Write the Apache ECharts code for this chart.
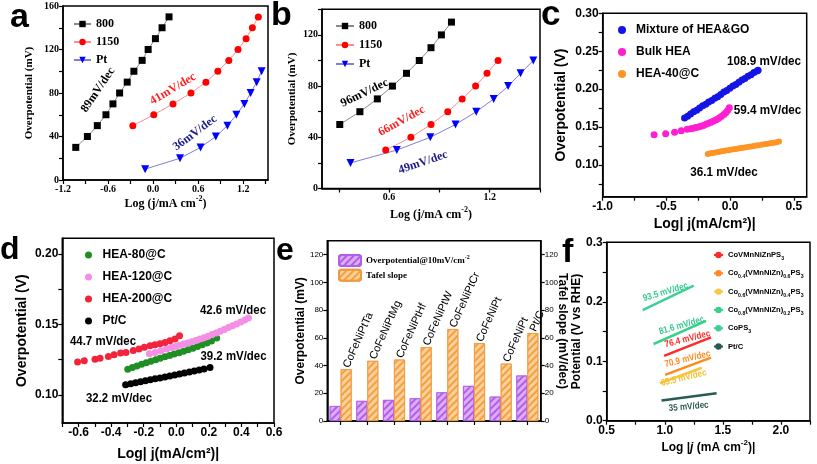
<!DOCTYPE html>
<html><head><meta charset="utf-8">
<script src="https://cdn.jsdelivr.net/npm/echarts@6/dist/echarts.min.js"></script>
<style>html,body{margin:0;padding:0;background:#fff}#c{width:817px;height:464px}</style>
</head><body><div id="c"></div>
<script>
// ---------- panel a ----------
const a800X = [-1.03,-0.875,-0.743,-0.628,-0.535,-0.446,-0.345,-0.256,-0.146,-0.066,0.031,0.119,0.212];
const a800Y = [30,40,50,60,70,80,90,100,110,120,130,140,150];
const a1150X = [-0.27,0.009,0.265,0.504,0.703,0.862,1.008,1.131,1.238,1.322,1.401];
const a1150Y = [50,60,70,80,90,100,110,120,130,140,150];
const aPtX = [-0.106,0.358,0.632,0.835,0.990,1.109,1.215,1.299,1.379,1.445];
const aPtY = [10,20,30,40,50,60,70,80,90,100];
const aXTicks = [-1.2,-0.9,-0.6,-0.3,0,0.3,0.6,0.9,1.2,1.5];
const aXLabels = [-1.2,-0.6,0,0.6,1.2];
const aYTicks = [0,20,40,60,80,100,120,140,160];
const aYLabels = [0,40,80,120,160];
// ---------- panel b ----------
const b800X = [0.306,0.426,0.53,0.62,0.704,0.78,0.85,0.912,0.972];
const b800Y = [50,60,70,80,90,100,110,120,130];
const b1150X = [0.58,0.73,0.85,0.95,1.036,1.116,1.184,1.25];
const b1150Y = [30,40,50,60,70,80,90,100];
const bPtX = [0.37,0.646,0.846,0.996,1.12,1.224,1.31,1.384,1.46];
const bPtY = [20,30,40,50,60,70,80,90,100];
const bXTicks = [0.3,0.6,0.9,1.2,1.5];
const bXLabels = [0.6,1.2];
const bYTicks = [0,20,40,60,80,100,120,140];
const bYLabels = [0,40,80,120];
// ---------- panel c ----------
const cMixX = [-0.358,-0.334,-0.311,-0.287,-0.263,-0.240,-0.216,-0.192,-0.169,-0.145,-0.121,-0.098,-0.074,-0.050,-0.027,-0.003,0.021,0.044,0.068,0.092,0.115,0.139,0.163,0.186,0.210,0.219];
const cMixY = [0.162,0.164,0.167,0.170,0.172,0.175,0.178,0.180,0.183,0.185,0.188,0.190,0.193,0.196,0.198,0.201,0.204,0.206,0.209,0.212,0.214,0.217,0.219,0.222,0.224,0.225];
const cBulkX = [-0.597,-0.506,-0.436,-0.384,-0.337,-0.31,-0.29,-0.27,-0.25,-0.23,-0.21,-0.19,-0.17,-0.15,-0.13,-0.11,-0.09,-0.07,-0.05,-0.035,-0.02,-0.007];
const cBulkY = [0.1396,0.141,0.143,0.1449,0.147,0.1476,0.1484,0.1492,0.1501,0.151,0.152,0.1535,0.155,0.1562,0.1578,0.1595,0.1615,0.1638,0.1665,0.1688,0.1718,0.1755];
const cHeaX = [-0.176,-0.155,-0.135,-0.115,-0.095,-0.075,-0.055,-0.035,-0.015,0.005,0.025,0.045,0.065,0.085,0.105,0.125,0.145,0.165,0.185,0.205,0.225,0.245,0.265,0.285,0.305,0.325,0.345,0.365,0.383];
const cHeaY = [0.1145,0.1152,0.1158,0.1164,0.117,0.1176,0.1182,0.1188,0.1193,0.1199,0.1205,0.121,0.1216,0.1222,0.1227,0.1233,0.1238,0.1244,0.125,0.1255,0.126,0.1266,0.1271,0.1277,0.1282,0.1287,0.1293,0.1299,0.1307];
const cXTicks = [-1,-0.75,-0.5,-0.25,0,0.25,0.5];
const cXLabels = [-1,-0.5,0,0.5];
const cYTicks = [0.075,0.1,0.125,0.15,0.175,0.2,0.225,0.25,0.275,0.3];
const cYLabels = [0.1,0.15,0.2,0.25,0.3];
// ---------- panel d ----------
const dRedX = [-0.606,-0.565,-0.499,-0.468,-0.417,-0.382,-0.342,-0.309,-0.264,-0.229,-0.196,-0.161,-0.131,-0.100,-0.069,-0.039,-0.008,0.02];
const dRedY = [0.1232,0.1241,0.1253,0.1260,0.1272,0.1284,0.1296,0.1300,0.1314,0.1324,0.1338,0.1348,0.1355,0.1362,0.1371,0.1383,0.1395,0.1418];
const dPinkX = [-0.165,-0.13,-0.095,-0.06,-0.03,-0.005,0.02,0.045,0.07,0.095,0.12,0.145,0.17,0.195,0.22,0.245,0.27,0.295,0.32,0.345,0.37,0.395,0.42,0.443];
const dPinkY = [0.1291,0.1300,0.1312,0.1325,0.1335,0.1343,0.1352,0.1360,0.1368,0.1377,0.1386,0.1395,0.1405,0.1416,0.1427,0.1438,0.1450,0.1464,0.1477,0.1490,0.1503,0.1516,0.1530,0.1544];
const dGreenX = [-0.298,-0.27,-0.242,-0.213,-0.185,-0.156,-0.127,-0.099,-0.07,-0.041,-0.013,0.016,0.045,0.073,0.102,0.13,0.159,0.188,0.216,0.248];
const dGreenY = [0.1182,0.1193,0.1205,0.1216,0.1227,0.1238,0.1249,0.1259,0.1269,0.1279,0.1289,0.1299,0.1309,0.1320,0.1331,0.1342,0.1355,0.1368,0.1382,0.1402];
const dPtX = [-0.311,-0.28,-0.25,-0.22,-0.19,-0.16,-0.13,-0.10,-0.07,-0.04,-0.01,0.02,0.05,0.08,0.11,0.14,0.17,0.207];
const dPtY = [0.1071,0.1078,0.1085,0.1092,0.1099,0.1106,0.1113,0.1120,0.1127,0.1134,0.1141,0.1148,0.1155,0.1162,0.1169,0.1176,0.1183,0.1194];
const dXTicks = [-0.7,-0.6,-0.5,-0.4,-0.3,-0.2,-0.1,0,0.1,0.2,0.3,0.4,0.5,0.6];
const dXLabels = [-0.6,-0.4,-0.2,0,0.2,0.4,0.6];
const dYTicks = [0.1,0.125,0.15,0.175,0.2];
const dYLabels = [0.1,0.15,0.2];
// ---------- panel e ----------
const eCats = ['CoFeNiPtTa','CoFeNiPtMg','CoFeNiPtHf','CoFeNiPtW','CoFeNiPtCr','CoFeNiPt','CoFeNiPt','Pt/C'];
const eOver = [10.8,14.5,15.2,16.4,20.7,25.3,17.6,32.8];
const eTafel = [37.3,43.4,44.3,53.3,66.3,56.1,41.4,63.4];
const eYTicks = [0,20,40,60,80,100,120];
// ---------- panel f ----------
const fCoPS3X = [0.81,1.249], fCoPS3Y = [0.186,0.227];
const fCo08X = [0.904,1.356], fCo08Y = [0.129,0.168];
const fCoVX = [0.994,1.398], fCoVY = [0.109,0.140];
const fCo04X = [1.003,1.398], fCo04Y = [0.077,0.106];
const fCo06X = [0.958,1.319], fCo06Y = [0.063,0.089];
const fPtX = [0.972,1.446], fPtY = [0.034,0.046];
const fXTicks = [0.5,0.75,1,1.25,1.5,1.75,2,2.25];
const fXLabels = [0.5,1,1.5,2];
const fYTicks = [0,0.05,0.1,0.15,0.2,0.25,0.3];
const fYLabels = [0,0.1,0.2,0.3];

const SERIF = 'Liberation Serif';
const SANS = 'Liberation Sans';
const zip = (xs, ys) => xs.map((x, i) => [x, ys[i]]);

function vAxis(o) {
  return {
    type: 'value', gridIndex: o.g, min: o.min, max: o.max, position: o.pos,
    axisLine: {show: true, onZero: false, lineStyle: {color: '#000', width: 1.5}},
    axisTick: {show: true, length: 4, customValues: o.ticks, lineStyle: {color: '#000', width: 1.2}},
    axisLabel: {show: true, customValues: o.labels, formatter: o.fmt, fontFamily: o.ff, fontWeight: 'bold',
      fontSize: o.fs, color: '#000', margin: o.margin == null ? 4 : o.margin},
    splitLine: {show: false},
    name: o.name, nameLocation: 'middle', nameGap: o.gap, nameMoveOverlap: false,
    nameTextStyle: {fontFamily: o.ff, fontWeight: 'bold', fontSize: o.nfs, color: '#000', lineHeight: o.nfs + 6,
      rich: {
        sup: {fontFamily: o.ff, fontWeight: 'bold', fontSize: o.nfs - 4, lineHeight: o.nfs - 4, verticalAlign: 'top', color: '#000'},
        i: {fontFamily: o.ff, fontWeight: 'bold', fontStyle: 'italic', fontSize: o.nfs, lineHeight: o.nfs + 6, color: '#000'}
      }}
  };
}
const f1 = v => v.toFixed(1), f2 = v => v.toFixed(2), f0 = v => String(Math.round(v));

const grid = (l, t, r, b) => ({left: l, top: t, width: r - l, height: b - t, show: true, borderColor: '#000', borderWidth: 1.5, outerBoundsMode: 'none', containLabel: false});

const xAxis = [
  vAxis({g: 0, min: -1.2, max: 1.53, ticks: aXTicks, labels: aXLabels, fmt: f1, ff: SERIF, fs: 10, name: 'Log (j/mA cm{sup|-2})', gap: 15, nfs: 12}),
  vAxis({g: 1, min: 0.2, max: 1.5, ticks: bXTicks, labels: bXLabels, fmt: f1, ff: SERIF, fs: 10, name: 'Log (j/mA cm{sup|-2})', gap: 17, nfs: 12}),
  vAxis({g: 2, min: -1.0, max: 0.6, ticks: cXTicks, labels: cXLabels, fmt: f1, ff: SANS, fs: 12, name: 'Log| j(mA/cm²)|', gap: 17, nfs: 14}),
  vAxis({g: 3, min: -0.7, max: 0.6, ticks: dXTicks, labels: dXLabels, fmt: f1, ff: SANS, fs: 12, name: 'Log| j(mA/cm²)|', gap: 21, nfs: 14}),
  {type: 'category', gridIndex: 4, data: eCats.map((c, i) => String(i)), boundaryGap: true,
    axisLine: {show: true, lineStyle: {color: '#000', width: 1.5}},
    axisTick: {show: true, alignWithLabel: true, length: 4, lineStyle: {color: '#000', width: 1.2}},
    axisLabel: {show: false}, splitLine: {show: false}},
  vAxis({g: 5, min: 0.5, max: 2.25, ticks: fXTicks, labels: fXLabels, fmt: f1, ff: SANS, fs: 12, name: 'Log |{i|j} (mA cm{sup|-2})|', gap: 18, nfs: 12})
];
const yAxis = [
  vAxis({g: 0, min: 0, max: 160, ticks: aYTicks, labels: aYLabels, fmt: f0, ff: SERIF, fs: 10, name: 'Overpotential (mV)', gap: 25, nfs: 11}),
  vAxis({g: 1, min: 0, max: 140, ticks: bYTicks, labels: bYLabels, fmt: f0, ff: SERIF, fs: 10, name: 'Overpotential (mV)', gap: 21, nfs: 11}),
  vAxis({g: 2, min: 0.058, max: 0.3, ticks: cYTicks, labels: cYLabels, fmt: f2, ff: SANS, fs: 12, name: 'Overpotential (V)', gap: 32, nfs: 14}),
  vAxis({g: 3, min: 0.08, max: 0.211, ticks: dYTicks, labels: dYLabels, fmt: f2, ff: SANS, fs: 12, name: 'Overpotential (V)', gap: 30, nfs: 14}),
  vAxis({g: 4, min: 0, max: 130, ticks: eYTicks, labels: eYTicks, fmt: f0, ff: SANS, fs: 8, name: 'Overpotential (mV)', gap: 18, nfs: 12}),
  vAxis({g: 4, min: 0, max: 130, pos: 'right', ticks: eYTicks, labels: eYTicks, fmt: f0, ff: SANS, fs: 8, name: '', gap: 15, nfs: 12}),
  vAxis({g: 5, min: 0, max: 0.3, ticks: fYTicks, labels: fYLabels, fmt: f1, ff: SANS, fs: 12, name: 'Potential (V vs RHE)', gap: 21, nfs: 12})
];
yAxis[4].axisLabel.fontWeight = 'normal';
yAxis[5].axisLabel.fontWeight = 'normal';

function lineMark(name, xi, xs, ys, symbol, mcol, lcol, rot) {
  return {type: 'line', name, xAxisIndex: xi, yAxisIndex: xi, data: zip(xs, ys), symbol, symbolSize: symbol === 'triangle' ? 8 : 7,
    symbolRotate: rot || 0, itemStyle: {color: mcol}, lineStyle: {color: lcol, width: 1}, z: 3, animation: false};
}
function dots(name, xi, xs, ys, col, size) {
  return {type: 'scatter', name, xAxisIndex: xi, yAxisIndex: xi, data: zip(xs, ys), symbol: 'circle', symbolSize: size, itemStyle: {color: col, opacity: 1}, animation: false};
}
function fLine(name, xs, ys, col) {
  return {type: 'line', name, xAxisIndex: 5, yAxisIndex: 6, data: zip(xs, ys), symbol: 'none', lineStyle: {color: col, width: 2.5}, itemStyle: {color: col}, animation: false};
}
const hatch = (c) => ({symbol: 'rect', symbolSize: 1, dashArrayX: [1, 0], dashArrayY: [1.3, 2.2], rotation: -Math.PI / 4, color: c});

const series = [
  lineMark('a800', 0, a800X, a800Y, 'rect', '#000000', '#8a8a8a'),
  lineMark('a1150', 0, a1150X, a1150Y, 'circle', '#ff0000', '#ff8c8c'),
  lineMark('aPt', 0, aPtX, aPtY, 'triangle', '#0000ff', '#8080d8', 180),
  lineMark('b800', 1, b800X, b800Y, 'rect', '#000000', '#8a8a8a'),
  lineMark('b1150', 1, b1150X, b1150Y, 'circle', '#ff0000', '#ff8c8c'),
  lineMark('bPt', 1, bPtX, bPtY, 'triangle', '#0000ff', '#8080d8', 180),
  dots('Mixture of HEA&GO', 2, cMixX, cMixY, '#1414e6', 7),
  dots('Bulk HEA', 2, cBulkX, cBulkY, '#ff1fd2', 7),
  dots('HEA-40@C', 2, cHeaX, cHeaY, '#ff9424', 6),
  dots('HEA-80@C', 3, dGreenX, dGreenY, '#1f8f24', 7),
  dots('HEA-120@C', 3, dPinkX, dPinkY, '#f48ee6', 7),
  dots('HEA-200@C', 3, dRedX, dRedY, '#f2243c', 7),
  dots('Pt/C', 3, dPtX, dPtY, '#000000', 7),
  {type: 'bar', name: 'eOver', xAxisIndex: 4, yAxisIndex: 4, data: eOver, barWidth: 11, barGap: '0%', animation: false,
    itemStyle: {color: '#dcaef8', borderColor: '#b060e6', borderWidth: 0.8, decal: hatch('#b45cee')}},
  {type: 'bar', name: 'eTafel', xAxisIndex: 4, yAxisIndex: 5, data: eTafel, barWidth: 11, barGap: '0%', animation: false,
    itemStyle: {color: '#fdd09c', borderColor: '#f09a40', borderWidth: 0.8, decal: hatch('#f5a040')},
    label: {show: true, position: 'top', rotate: 66, align: 'left', verticalAlign: 'middle', distance: 2,
      formatter: p => eCats[p.dataIndex], fontFamily: SANS, fontSize: 11, color: '#000'}},
  fLine('CoVMnNiZnPS3', fCoVX, fCoVY, '#ff2a2a'),
  fLine('Co0.4', fCo04X, fCo04Y, '#ff8a1e'),
  fLine('Co0.6', fCo06X, fCo06Y, '#f8c640'),
  fLine('Co0.8', fCo08X, fCo08Y, '#38d08a'),
  fLine('CoPS3', fCoPS3X, fCoPS3Y, '#3ccf98'),
  fLine('fPt', fPtX, fPtY, '#2b5a52')
];

const fNames = {
  'CoVMnNiZnPS3': 'CoVMnNiZnPS{s|3}',
  'Co0.4': 'Co{s|0.4}(VMnNiZn){s|0.6}PS{s|3}',
  'Co0.6': 'Co{s|0.6}(VMnNiZn){s|0.4}PS{s|3}',
  'Co0.8': 'Co{s|0.8}(VMnNiZn){s|0.2}PS{s|3}',
  'CoPS3': 'CoPS{s|3}',
  'fPt': 'Pt/C'
};
const abNames = {a800: '800', a1150: '1150', aPt: 'Pt', b800: '800', b1150: '1150', bPt: 'Pt'};
const legBase = (extra) => Object.assign({orient: 'vertical', padding: 0, selectedMode: false, inactiveColor: '#000'}, extra);

const legend = [
  legBase({data: ['a800', 'a1150', 'aPt'], left: 73, top: 18, itemWidth: 17, itemHeight: 8, itemGap: 6, formatter: n => abNames[n],
    textStyle: {fontFamily: SERIF, fontWeight: 'bold', fontSize: 12, color: '#000'}}),
  legBase({data: ['b800', 'b1150', 'bPt'], left: 335, top: 20, itemWidth: 18, itemHeight: 8, itemGap: 7, formatter: n => abNames[n],
    textStyle: {fontFamily: SERIF, fontWeight: 'bold', fontSize: 12, color: '#000'}}),
  legBase({data: ['Mixture of HEA&GO', 'Bulk HEA', 'HEA-40@C'], left: 618, top: 24, itemWidth: 18, itemHeight: 8, itemGap: 10,
    textStyle: {fontFamily: SANS, fontWeight: 'bold', fontSize: 12, color: '#000'}}),
  legBase({data: ['HEA-80@C', 'HEA-120@C', 'HEA-200@C', 'Pt/C'], left: 85, top: 249, itemWidth: 18, itemHeight: 7, itemGap: 10,
    textStyle: {fontFamily: SANS, fontWeight: 'bold', fontSize: 12, color: '#000'}}),
  legBase({data: ['eOver', 'eTafel'], left: 338, top: 254, itemWidth: 22, itemHeight: 11, itemGap: 1.7,
    formatter: n => n === 'eOver' ? 'Overpotential@10mV/cm{sup|-2}' : 'Tafel slope',
    textStyle: {fontFamily: SERIF, fontWeight: 'bold', fontSize: 9, color: '#000', lineHeight: 13,
      rich: {sup: {fontFamily: SERIF, fontWeight: 'bold', fontSize: 6, lineHeight: 6, verticalAlign: 'top'}}}}),
  legBase({data: ['CoVMnNiZnPS3', 'Co0.4', 'Co0.6', 'Co0.8', 'CoPS3', 'fPt'], left: 713, top: 249, itemWidth: 9, itemHeight: 8, itemGap: 6.3,
    formatter: n => fNames[n],
    textStyle: {fontFamily: SANS, fontWeight: 'bold', fontSize: 7.6, color: '#000', lineHeight: 12,
      rich: {s: {fontFamily: SANS, fontWeight: 'bold', fontSize: 5.2, lineHeight: 5.2, verticalAlign: 'bottom'}}}})
];

function txt(t, x, y, o) {
  o = o || {};
  return {type: 'text', x, y, rotation: o.rot || 0, scaleX: o.sx || 1, z: 100, silent: true,
    style: {text: t, fill: o.c || '#000', font: o.font, textAlign: o.align || 'center', align: o.align || 'center',
      textVerticalAlign: 'middle', verticalAlign: 'middle'}};
}
const LET = s => 'bold ' + s + 'px ' + SANS;
const ANN_S = 'bold 12px ' + SERIF;
const ANN_C = 'bold 13px ' + SANS;
const ANN_F = 'bold 9.5px ' + SANS;
const graphic = [
  txt('a', 10, 18, {font: LET(34), align: 'left'}),
  txt('b', 271, 16, {font: LET(34), align: 'left'}),
  txt('c', 541, 15, {font: LET(35), align: 'left'}),
  txt('d', 0, 250, {font: LET(32), align: 'left'}),
  txt('e', 276, 251.5, {font: LET(32), align: 'left'}),
  txt('f', 562, 253, {font: LET(34), align: 'left'}),
  txt('Tafel slope (mV/dec)', 562, 331, {font: 'bold 12px ' + SANS, rot: -Math.PI / 2}),
  txt('89mV/dec', 98, 90, {font: ANN_S, rot: 0.98}),
  txt('41mV/dec', 173, 89, {font: ANN_S, rot: 0.54, c: '#ff2020'}),
  txt('36mV/dec', 195, 133, {font: ANN_S, rot: 0.64, c: '#1c1c8a'}),
  txt('96mV/dec', 364.5, 93, {font: ANN_S, rot: 0.45}),
  txt('66mV/dec', 401.7, 121, {font: ANN_S, rot: 0.5, c: '#ff2020'}),
  txt('49mV/dec', 423, 162.5, {font: ANN_S, rot: 0.33, c: '#1c1c8a'}),
  txt('108.9 mV/dec', 764, 61.7, {font: ANN_C, sx: 0.9}),
  txt('59.4 mV/dec', 767.5, 110, {font: ANN_C, sx: 0.9}),
  txt('36.1 mV/dec', 724, 172, {font: ANN_C, sx: 0.9}),
  txt('44.7 mV/dec', 103, 341.7, {font: ANN_C, sx: 0.88}),
  txt('42.6 mV/dec', 233, 310, {font: ANN_C, sx: 0.88}),
  txt('39.2 mV/dec', 233.5, 356, {font: ANN_C, sx: 0.88}),
  txt('32.2 mV/dec', 119, 398.3, {font: ANN_C, sx: 0.88}),
  txt('93.5 mV/dec', 665.5, 292, {font: ANN_F, rot: 0.29, sx: 0.85, c: '#36c98f'}),
  txt('81.6 mV/dec', 681.7, 325.5, {font: ANN_F, rot: 0.28, sx: 0.85, c: '#36c98f'}),
  txt('76.4 mV/dec', 687.5, 339, {font: ANN_F, rot: 0.25, sx: 0.85, c: '#ff2a2a'}),
  txt('70.9 mV/dec', 687.5, 359, {font: ANN_F, rot: 0.24, sx: 0.85, c: '#ff8a1e'}),
  txt('65.5 mV/dec', 683.7, 378, {font: ANN_F, rot: 0.24, sx: 0.85, c: '#f2c030'}),
  txt('35 mV/dec', 688.7, 406.7, {font: ANN_F, rot: 0.09, sx: 0.85, c: '#2b5a52'})
];

const chart = echarts.init(document.getElementById('c'), null, {renderer: 'canvas'});
chart.setOption({
  backgroundColor: '#fff',
  animation: false,
  grid: [grid(63, 6, 268, 180), grid(322, 9.3, 540, 188.5), grid(602.7, 13.3, 806.7, 196.7),
         grid(62.3, 238.3, 274, 423), grid(327.3, 240.7, 540.7, 421), grid(606.7, 242.3, 810, 420.7)],
  xAxis, yAxis, series, legend, graphic
});
</script></body></html>
